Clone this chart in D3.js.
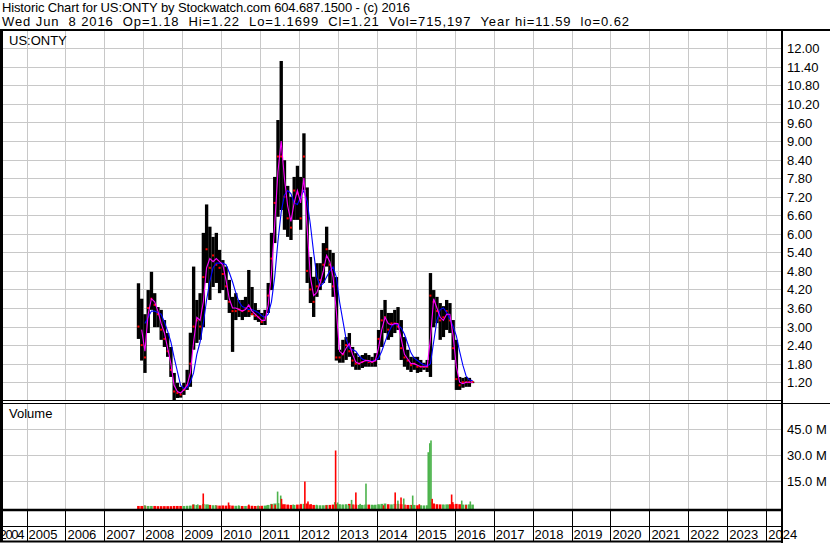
<!DOCTYPE html>
<html><head><meta charset="utf-8">
<script src="https://cdn.jsdelivr.net/npm/d3@7"></script>
<style>
html,body{margin:0;padding:0;background:#fff;}
svg{display:block;font-family:"Liberation Sans",Arial,sans-serif;}
</style></head><body>
<svg id="c" width="830" height="543"></svg>
<script>
// ---------- DATA ----------
const titleLine1 = "Historic Chart for US:ONTY by Stockwatch.com 604.687.1500 - (c) 2016";
const titleLine2 = "Wed Jun  8 2016  Op=1.18  Hi=1.22  Lo=1.1699  Cl=1.21  Vol=715,197  Year hi=11.59  lo=0.62";
const symbolLabel = "US:ONTY";
const volumeLabel = "Volume";
const years = [2004,2005,2006,2007,2008,2009,2010,2011,2012,2013,2014,2015,2016,2017,2018,2019,2020,2021,2022,2023,2024];
const priceTicks = [1.2,1.8,2.4,3.0,3.6,4.2,4.8,5.4,6.0,6.6,7.2,7.8,8.4,9.0,9.6,10.2,10.8,11.4,12.0];
const volTicks = [15,30,45];
// monthly bars Nov 2007 .. Jun 2016
const firstMonth = "2007-11";
const high = [
4.40,3.90,
3.40,4.18,4.77,4.08,3.63,3.54,3.21,2.79,2.34,1.50,1.18,1.05,
1.18,1.60,2.80,4.94,3.86,4.08,6.03,6.95,6.23,5.90,6.03,5.48,
5.15,4.94,4.51,3.96,4.08,3.86,3.86,3.96,4.83,4.28,3.76,3.54,
3.44,3.54,4.41,6.03,7.84,9.68,11.59,8.38,7.55,7.20,7.84,8.20,
7.84,9.25,7.50,5.25,4.61,5.05,5.05,5.70,6.23,5.48,5.38,4.60,
2.25,2.57,2.66,2.79,2.34,2.14,2.02,2.08,2.14,2.08,2.02,2.14,
2.89,3.54,3.86,3.44,3.44,3.54,3.63,3.21,2.66,2.25,2.02,2.02,
2.02,1.92,1.83,1.92,4.73,4.18,3.96,3.76,3.66,3.86,3.76,3.21,
2.57,1.37,1.34,1.37,1.34,1.22];
const low = [
2.60,1.90,
1.50,2.79,3.54,2.98,2.98,2.57,2.34,2.02,1.37,0.62,0.69,0.70,
0.79,0.95,1.05,2.25,2.47,2.57,2.98,4.41,3.86,4.28,4.41,4.08,
4.18,3.86,3.44,2.18,3.21,3.31,3.21,3.31,3.31,3.37,3.21,3.15,
3.05,3.05,3.44,4.18,5.70,6.55,6.77,6.13,5.90,5.80,6.45,6.45,
6.13,7.42,4.41,3.76,3.31,3.96,4.18,4.41,4.94,4.41,3.96,1.90,
1.83,1.83,1.92,2.02,1.70,1.60,1.60,1.66,1.70,1.70,1.70,1.70,
1.92,2.34,2.79,2.57,2.66,2.79,2.89,1.92,1.70,1.60,1.53,1.60,
1.50,1.53,1.60,1.53,1.37,2.98,3.11,2.57,2.66,2.89,2.79,1.92,
0.95,0.95,1.02,1.05,1.05,1.17];
const close = [
3.0,2.4,
2.0,3.6,3.9,3.7,3.4,2.9,2.6,2.2,1.6,0.9,0.85,0.8,
0.95,1.1,1.8,3.0,3.2,3.0,4.6,5.5,4.9,5.3,5.0,4.9,
4.7,4.3,3.8,3.5,3.5,3.55,3.5,3.6,3.5,3.4,3.35,3.3,
3.15,3.3,4.0,5.2,7.0,8.5,8.5,7.2,6.5,6.2,7.4,7.3,
6.5,8.5,4.8,4.2,3.8,4.3,4.5,5.0,5.5,5.0,4.3,2.0,
2.0,2.1,2.4,2.2,1.9,1.8,1.8,1.85,1.9,1.85,1.85,1.9,
2.6,3.2,3.3,2.9,3.1,3.1,3.0,2.3,2.0,1.9,1.75,1.8,
1.7,1.7,1.7,1.7,4.0,3.8,3.5,3.2,3.3,3.5,3.2,2.3,
1.3,1.1,1.2,1.2,1.2,1.21];
const maShort = [
null,2.9,
2.2,3.4,3.9,3.8,3.5,3.1,2.8,2.3,1.8,1.1,0.9,0.85,
0.95,1.1,1.5,2.5,3.3,3.2,3.8,4.9,5.2,5.1,5.2,5.1,
5.0,4.5,3.9,3.6,3.6,3.55,3.5,3.55,3.7,3.5,3.4,3.3,
3.2,3.2,3.7,4.7,6.3,8.0,9.0,7.8,6.9,6.4,7.0,7.4,
7.0,7.8,6.2,4.6,4.0,4.1,4.4,4.8,5.3,5.1,4.6,3.5,
2.2,2.1,2.3,2.45,2.1,1.85,1.8,1.85,1.9,1.9,1.85,1.9,
2.3,2.9,3.3,3.1,3.05,3.1,3.1,2.6,2.1,1.95,1.8,1.8,
1.75,1.7,1.7,1.7,2.6,3.9,3.6,3.3,3.2,3.4,3.4,2.7,
1.7,1.2,1.15,1.2,1.2,1.2];
const maLong = [
null,null,
3.1,3.3,3.5,3.5,3.45,3.4,3.15,2.85,2.5,2.0,1.55,1.1,
1.0,1.02,1.2,1.5,2.1,2.5,3.1,3.85,4.45,4.9,5.05,5.05,
5.05,5.0,4.75,4.45,4.1,3.8,3.65,3.6,3.55,3.55,3.5,3.45,
3.35,3.3,3.4,3.8,4.6,5.75,6.7,7.25,7.4,7.3,7.0,6.95,
7.2,7.4,7.05,6.3,5.4,4.6,4.3,4.4,4.6,4.8,4.93,4.6,
3.8,3.2,2.6,2.3,2.25,2.2,2.05,1.95,1.9,1.88,1.88,1.9,
1.98,2.2,2.5,2.78,3.0,3.1,3.05,2.95,2.75,2.45,2.15,1.98,
1.9,1.82,1.76,1.72,1.8,2.5,3.2,3.55,3.6,3.45,3.25,3.0,
2.7,2.2,1.75,1.4,1.27,1.25];
// typical monthly volume (millions)
const volMonthly = [
0.6,0.6,
0.7,0.6,0.6,0.6,0.5,0.5,0.5,0.5,0.5,0.6,0.6,0.6,
0.6,0.7,0.8,1.5,1.2,1.0,1.8,1.5,1.2,1.0,0.9,0.8,
0.9,0.8,1.0,0.8,0.7,0.7,0.6,0.6,0.8,0.7,0.6,0.6,
0.7,0.8,1.2,1.8,2.0,2.2,2.0,1.6,1.4,1.2,1.2,1.4,
1.4,1.8,2.0,1.5,1.2,1.0,1.0,1.0,1.2,1.2,1.4,1.6,
1.6,1.4,1.6,1.8,1.5,1.4,1.2,1.2,1.4,1.4,1.3,1.3,
1.6,1.8,2.0,1.6,1.5,1.8,1.8,1.6,1.4,1.2,1.2,1.2,
1.0,1.0,0.9,1.0,3.0,2.0,1.6,1.5,1.4,1.5,1.6,1.6,
1.8,1.6,1.4,1.4,1.5,1.4];
// single-day volume spikes
const spikeDates = [2008.04,2009.28,2009.40,2009.54,2009.67,2009.86,2010.19,2010.45,2010.71,2010.95,2011.17,2011.30,2011.39,2011.45,2011.53,2011.55,2011.58,2011.85,2012.05,2012.15,2012.23,2012.31,2012.45,2012.70,2012.92,2012.94,2012.99,2013.12,2013.27,2013.35,2013.46,2013.57,2013.72,2013.90,2014.07,2014.17,2014.47,2014.54,2014.62,2014.69,2014.86,2014.92,2015.09,2015.32,2015.36,2015.39,2015.42,2015.46,2015.70,2015.83,2015.92,2015.95,2016.18,2016.29,2016.40];
const spikeVols  = [1.0,1.4,1.5,7.8,1.4,1.0,2.6,0.9,1.4,0.8,0.9,1.5,1.3,8.9,6.6,4.7,1.5,1.4,1.8,14.7,3.2,1.6,1.3,1.0,2.8,32.6,2.6,1.3,1.0,4.1,8.4,1.8,13.5,1.0,1.0,1.0,8.4,3.7,5.5,4.9,1.0,6.6,1.6,31.6,36.8,38.4,4.7,1.8,1.3,1.3,7.2,2.8,3.7,1.2,3.2];
const spikeUp    = [1,0,1,0,1,1,0,1,0,1,1,0,0,1,1,0,0,1,0,0,0,0,1,0,1,0,1,1,1,1,0,1,1,1,1,0,0,1,0,1,1,1,0,1,1,1,0,0,1,1,0,0,1,0,1];

// ---------- DRAW ----------
const svg = d3.select("#c");
const L = 3, R = 781;            // plot left/right
const PT = 31, PB = 400;         // price panel
const VT = 403, VB = 509;        // volume panel
const x = d3.scaleLinear().domain([2005, 2024]).range([26.5, 766.2]);
const y = d3.scaleLinear().domain([1.2, 12]).range([382.2, 48.3]);
const yv = d3.scaleLinear().domain([0, 45]).range([507, 429]);
const grid = "#c8c8c8";

const start = d3.timeParse("%Y-%m")(firstMonth);
const months = d3.timeMonth.range(start, d3.timeMonth.offset(start, high.length));
const dec = months.map(m => m.getFullYear() + m.getMonth() / 12);
const mw = x(2005 + 1/12) - x(2005);

const defs = svg.append("defs");
defs.append("clipPath").attr("id","cp").append("rect").attr("x",L).attr("y",PT).attr("width",R-L).attr("height",PB-PT);
defs.append("clipPath").attr("id","cv").append("rect").attr("x",L).attr("y",VT).attr("width",R-L).attr("height",VB-VT);

// grids
const gp = svg.append("g");
years.filter(yr => x(yr) > L && x(yr) < R).forEach(yr => {
  const xx = Math.round(x(yr)) + 0.5;
  gp.append("line").attr("x1",xx).attr("x2",xx).attr("y1",PT).attr("y2",PB).attr("stroke",grid);
  gp.append("line").attr("x1",xx).attr("x2",xx).attr("y1",VT).attr("y2",VB).attr("stroke",grid);
});
priceTicks.forEach(p => {
  const yy = Math.round(y(p)) + 0.5;
  gp.append("line").attr("x1",L).attr("x2",R).attr("y1",yy).attr("y2",yy).attr("stroke",grid);
});
volTicks.forEach(v => {
  const yy = Math.round(yv(v)) + 0.5;
  gp.append("line").attr("x1",L).attr("x2",R).attr("y1",yy).attr("y2",yy).attr("stroke",grid);
});

// price bars
const pg = svg.append("g").attr("clip-path","url(#cp)");
pg.selectAll("rect.bar").data(dec).join("rect").attr("class","bar")
  .attr("x", (d) => x(d)).attr("width", mw + 0.1)
  .attr("y", (d,i) => y(high[i])).attr("height", (d,i) => y(low[i]) - y(high[i]))
  .attr("fill","#000");
pg.selectAll("rect.cl").data(dec).join("rect").attr("class","cl")
  .attr("x", d => x(d + 0.5/12) - 1).attr("width", 2)
  .attr("y", (d,i) => y(close[i]) - 1).attr("height", 2).attr("fill","#ff0000");
const lineGen = arr => d3.line().defined((d,i) => arr[i] != null)
  .x(d => x(d + 0.5/12)).y((d,i) => y(arr[i]));
pg.append("path").datum(dec).attr("d", lineGen(maLong)).attr("fill","none").attr("stroke","#0000ff").attr("stroke-width",1.1);
pg.append("path").datum(dec).attr("d", lineGen(maShort)).attr("fill","none").attr("stroke","#ff00ff").attr("stroke-width",1.1);

// volume
const vg = svg.append("g").attr("clip-path","url(#cv)");
const green = "#4cb34c", red = "#ff0000";
vg.selectAll("rect.vm").data(dec).join("rect").attr("class","vm")
  .attr("x", d => x(d) + 0.3).attr("width", mw - 0.6)
  .attr("y", (d,i) => yv(volMonthly[i])).attr("height", (d,i) => VB - yv(volMonthly[i]))
  .attr("fill", (d,i) => (i > 0 && close[i] >= close[i-1]) ? green : red);
vg.selectAll("rect.vs").data(spikeDates).join("rect").attr("class","vs")
  .attr("x", d => x(d) - 0.8).attr("width", 1.6)
  .attr("y", (d,i) => yv(spikeVols[i])).attr("height", (d,i) => VB - yv(spikeVols[i]))
  .attr("fill", (d,i) => spikeUp[i] ? green : red);

// frame lines
const blk = (x1,y1,x2,y2,w) => svg.append("line").attr("x1",x1).attr("y1",y1).attr("x2",x2).attr("y2",y2).attr("stroke","#000").attr("stroke-width",w);
blk(0,30,830,30,2);           // under header
blk(1.5,30,1.5,541,3);        // left border
blk(782,30,782,543,2);        // right axis
blk(L,400.5,R,400.5,1);       // price bottom
blk(L,403.5,830,403.5,1);     // volume top
blk(L,510,R,510,2.5);         // volume baseline
blk(L,526.5,R,526.5,1);       // axis row divider
blk(0,541.5,R,541.5,2);       // bottom

// year cells
years.forEach(yr => {
  const xx = Math.round(x(yr)) + 0.5;
  if (xx > L && xx < R) blk(xx,511,xx,541,1);
});

// texts
const pre = s => s.replace(/ /g, "\u00A0");
const txt = (s,xx,yy,opt={}) => {
  const t = svg.append("text").attr("x",xx).attr("y",yy)
    .attr("font-size",opt.size||13).attr("fill","#000").attr("text-anchor",opt.anchor||"start").text(pre(s));
  if (opt.len) t.attr("textLength", opt.len).attr("lengthAdjust","spacing");
  return t;
};
txt(titleLine1, 2, 12, {len: 408});
txt(titleLine2, 2, 26, {len: 627});
txt(symbolLabel, 9, 45);
txt(volumeLabel, 9, 418);
priceTicks.forEach(p => txt(p.toFixed(2), 787, y(p) + 5));
volTicks.forEach(v => txt(v.toFixed(1) + " M", 787, yv(v) + 5));
years.forEach(yr => {
  if (yr === years[0]) txt(String(yr), x(yr + 1) - 2, 539, {anchor:"end", len: 25});
  else txt(String(yr), x(yr) + 2, 539);
});
</script></body></html>
